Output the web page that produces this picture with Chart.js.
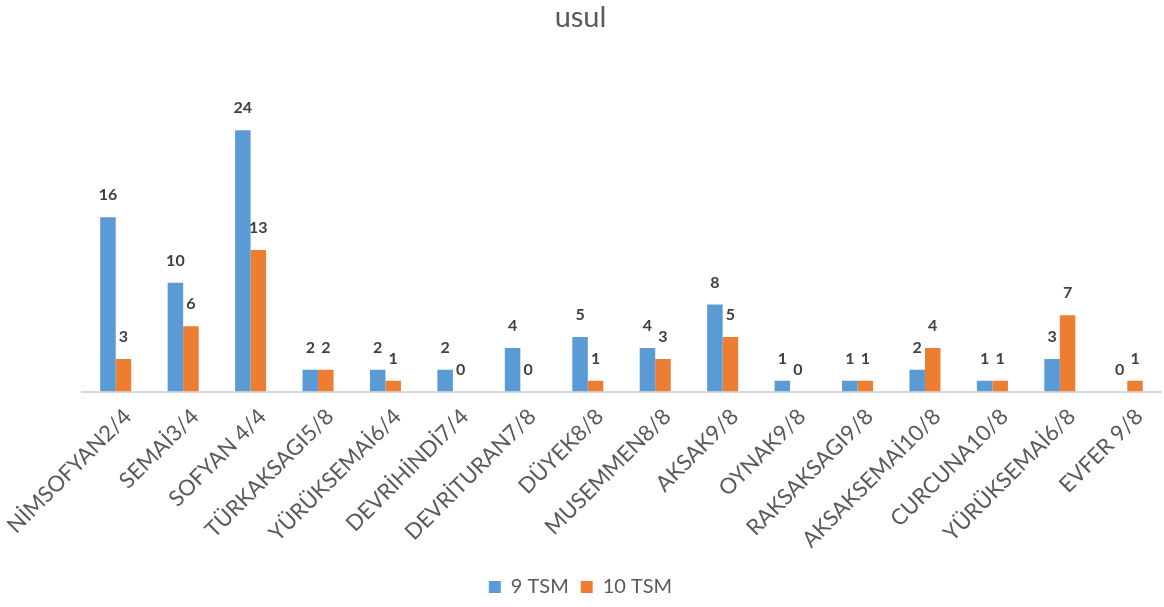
<!DOCTYPE html>
<html>
<head>
<meta charset="utf-8">
<script src="https://cdn.jsdelivr.net/npm/chart.js@4"></script>
<style>
  body { margin: 0; background: #fff; }
  #wrap { width: 1164px; height: 607px; }
</style>
</head>
<body>
<div id="wrap"><canvas id="chart" width="1164" height="607"></canvas></div>
<script>
const categories = ["NİMSOFYAN2/4", "SEMAİ3/4", "SOFYAN 4/4", "TÜRKAKSAGI5/8", "YÜRÜKSEMAİ6/4",
  "DEVRİHİNDİ7/4", "DEVRİTURAN7/8", "DÜYEK8/8", "MUSEMMEN8/8", "AKSAK9/8", "OYNAK9/8",
  "RAKSAKSAGI9/8", "AKSAKSEMAİ10/8", "CURCUNA10/8", "YÜRÜKSEMAİ6/8", "EVFER 9/8"];
const tsm9 = [16, 10, 24, 2, 2, 2, 4, 5, 4, 8, 1, 1, 2, 1, 3, 0];
const tsm10 = [3, 6, 13, 2, 1, 0, 0, 1, 3, 5, 0, 1, 4, 1, 7, 1];

// value labels above each bar
const valueLabels = {
  id: 'valueLabels',
  afterDatasetsDraw(chart) {
    let ctx = chart.ctx;
    ctx.save();
    ctx.font = 'bold 16px Lato';
    ctx.fillStyle = '#404040';
    ctx.textAlign = 'center';
    ctx.textBaseline = 'bottom';
    chart.data.datasets.forEach((ds, i) => {
      chart.getDatasetMeta(i).data.forEach((bar, j) => {
        ctx.fillText(ds.data[j], bar.x, bar.y - 14);
      });
    });
    ctx.restore();
  }
};

chart = new Chart(document.getElementById('chart'), {
  type: 'bar',
  data: {
    labels: categories,
    datasets: [
      { label: '9 TSM', data: tsm9, backgroundColor: '#5B9BD5' },
      { label: '10 TSM', data: tsm10, backgroundColor: '#ED7D31' }
    ]
  },
  options: {
    responsive: false,
    animation: false,
    layout: { padding: { left: 0, right: 3, top: 0, bottom: 0 } },
    datasets: { bar: { categoryPercentage: 0.46, barPercentage: 1 } },
    plugins: {
      title: {
        display: true, text: 'usul', color: '#595959',
        font: { family: 'Lato', size: 29, weight: 'normal' },
        padding: { top: 0, bottom: 30 }
      },
      legend: {
        position: 'bottom',
        labels: {
          color: '#595959', boxWidth: 12, boxHeight: 12, padding: 12,
          font: { family: 'Lato', size: 20 }
        }
      },
      tooltip: { enabled: false }
    },
    scales: {
      x: {
        grid: { display: false, drawTicks: false },
        border: { color: '#d9d9d9', width: 2 },
        afterFit: s => { s.paddingLeft = 82; },
        ticks: {
          color: '#595959', minRotation: 45, maxRotation: 45, padding: 12, labelOffset: 12,
          font: { family: 'Lato', size: 22 }
        }
      },
      y: { display: false, min: 0, max: 30 }
    }
  },
  plugins: [valueLabels]
});
</script>
</body>
</html>
